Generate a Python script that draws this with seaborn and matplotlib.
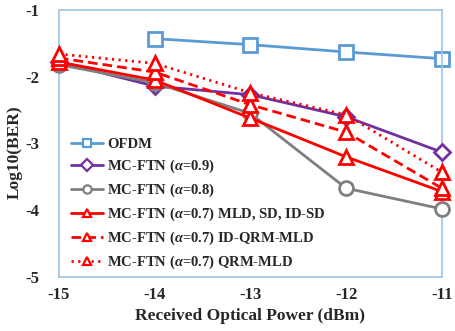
import matplotlib
matplotlib.use("Agg")
import matplotlib.pyplot as plt
from matplotlib.lines import Line2D
import seaborn as sns
import pandas as pd

# ── data ─────────────────────────────────────────────────────────────────────
power = [-15, -14, -13, -12, -11]
ofdm_power = [-14, -13, -12, -11]
ofdm = [-1.43, -1.52, -1.63, -1.73]
ftn_09 = [-1.78, -2.14, -2.27, -2.60, -3.13]
ftn_08 = [-1.82, -2.09, -2.55, -3.67, -3.98]
ftn_07_mld = [-1.78, -2.05, -2.62, -3.20, -3.72]
ftn_07_idqrm = [-1.72, -1.93, -2.42, -2.83, -3.67]
ftn_07_qrm = [-1.66, -1.80, -2.24, -2.57, -3.43]

labels = [
    "OFDM",
    r"MC-FTN ($\alpha$=0.9)",
    r"MC-FTN ($\alpha$=0.8)",
    r"MC-FTN ($\alpha$=0.7) MLD, SD, ID-SD",
    r"MC-FTN ($\alpha$=0.7) ID-QRM-MLD",
    r"MC-FTN ($\alpha$=0.7) QRM-MLD",
]

sns.set_theme(style="white")
plt.rcParams.update({
    "font.family": ["Liberation Serif", "DejaVu Serif"],
    "font.weight": "bold",
    "mathtext.fontset": "custom",
    "mathtext.rm": "Liberation Serif:bold",
    "mathtext.it": "Liberation Serif:italic:bold",
    "mathtext.bf": "Liberation Serif:bold",
    "axes.unicode_minus": False,
})

BLUE = "#5B9BD5"
PURPLE = "#7030A0"
GRAY = "#7F7F7F"
RED = "#FF0000"
SPINE = "#9DC3E6"

series = [
    (ofdm_power, ofdm, BLUE, "s", "-"),
    (power, ftn_09, PURPLE, "D", "-"),
    (power, ftn_08, GRAY, "o", "-"),
    (power, ftn_07_mld, RED, "^", "-"),
    (power, ftn_07_idqrm, RED, "^", (0, (3.5, 1.8))),
    (power, ftn_07_qrm, RED, "^", (0, (0.8, 1.6))),
]

fig, ax = plt.subplots(figsize=(4.56, 3.31), dpi=100)
fig.subplots_adjust(left=0.129, right=0.969, top=0.970, bottom=0.163)

msize = {"s": 9.5, "D": 8.5, "o": 10, "^": 10}
for i, (xs, ys, col, mk, ls) in enumerate(series):
    df = pd.DataFrame({"x": xs, "y": ys})
    sns.lineplot(data=df, x="x", y="y", ax=ax, color=col, linewidth=2,
                 linestyle=ls, marker=mk, markersize=msize[mk],
                 markerfacecolor="white", markeredgecolor=col,
                 markeredgewidth=2, zorder=2 + i, clip_on=False)

ax.set_xlim(-15, -11)
ax.set_ylim(-5, -1)
ax.set_xticks(power)
ax.set_yticks([-5, -4, -3, -2, -1])
ax.tick_params(direction="in", length=4, color=SPINE, labelsize=12)
ax.tick_params(axis="y", pad=14)
ax.tick_params(axis="x", pad=7)
for lab in ax.get_xticklabels() + ax.get_yticklabels():
    lab.set_fontweight("bold")
for sp in ax.spines.values():
    sp.set_color(SPINE)
    sp.set_linewidth(1.2)
ax.set_xlabel("Received Optical Power (dBm)", fontsize=12.5, fontweight="bold")
ax.set_ylabel("Log10(BER)", fontsize=12.5, fontweight="bold")
ax.xaxis.set_label_coords(0.5, -0.115)
ax.yaxis.set_label_coords(-0.093, 0.468)

handles = [
    Line2D([], [], color=col, linewidth=2, linestyle=ls, marker=mk,
           markersize=6, markerfacecolor="white", markeredgecolor=col,
           markeredgewidth=1.6)
    for (_, _, col, mk, ls) in series
]
ax.legend(handles, labels, loc="lower left", bbox_to_anchor=(0.01, -0.01),
          frameon=False, handlelength=2.2, handletextpad=0.25,
          labelspacing=0.45, borderaxespad=0.2,
          prop={"family": "Liberation Serif", "weight": "bold", "size": 10.5})

fig.savefig("out.png", dpi=100)
